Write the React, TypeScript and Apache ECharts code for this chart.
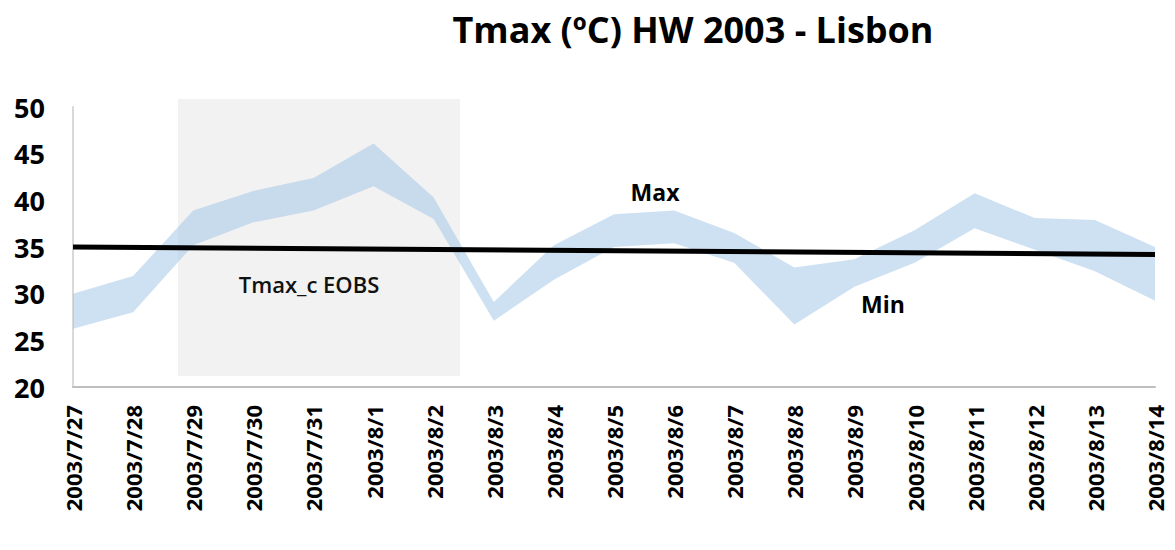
import React, { useEffect, useRef } from "react";
import * as echarts from "echarts";

const dates = [
  "2003/7/27", "2003/7/28", "2003/7/29", "2003/7/30", "2003/7/31",
  "2003/8/1", "2003/8/2", "2003/8/3", "2003/8/4", "2003/8/5",
  "2003/8/6", "2003/8/7", "2003/8/8", "2003/8/9", "2003/8/10",
  "2003/8/11", "2003/8/12", "2003/8/13", "2003/8/14",
];
const tmaxMax = [30.0, 31.9, 38.9, 41.0, 42.4, 46.1, 40.3, 29.1, 35.2, 38.5, 38.9, 36.5, 32.8, 33.7, 36.8, 40.75, 38.1, 37.9, 35.0];
const tmaxMin = [26.25, 28.0, 35.2, 37.65, 38.9, 41.5, 38.0, 27.1, 31.5, 35.0, 35.4, 33.3, 26.7, 30.75, 33.3, 37.0, 34.7, 32.4, 29.25];
const trendStart = 35.0;
const trendEnd = 34.2;
const yTicks = { min: 20, max: 50, interval: 5 };

const FONT = "'Open Sans', 'Noto Sans', sans-serif";

export default function App() {
  const ref = useRef<HTMLDivElement>(null);
  useEffect(() => {
    if (!ref.current) return;
    const chart = echarts.init(ref.current, undefined, { renderer: "svg" });
    const diff = tmaxMax.map((v, i) => +(v - tmaxMin[i]).toFixed(3));
    chart.setOption({
      animation: false,
      backgroundColor: "#ffffff",
      title: {
        text: "Tmax (ºC) HW 2003 - Lisbon",
        left: 688,
        textAlign: "center",
        top: 6,
        textStyle: { fontFamily: FONT, fontWeight: "bold", fontSize: 36, color: "#000" },
      },
      grid: { left: 73, right: 20, top: 107, bottom: 163, containLabel: false, outerBoundsMode: "none" },
      graphic: [
        {
          type: "rect",
          z: -10,
          shape: { x: 178, y: 99, width: 282, height: 277 },
          style: { fill: "#f2f2f2" },
          silent: true,
        },
        {
          type: "text",
          x: 309,
          y: 284,
          z: 10,
          style: { text: "Tmax_c EOBS", fontFamily: FONT, fontWeight: 600, fontSize: 22, fill: "#111", align: "center", verticalAlign: "middle" },
        },
        {
          type: "text",
          x: 655,
          y: 192,
          z: 10,
          style: { text: "Max", fontFamily: FONT, fontWeight: "bold", fontSize: 23, fill: "#000", align: "center", verticalAlign: "middle" },
        },
        {
          type: "text",
          x: 883,
          y: 304,
          z: 10,
          style: { text: "Min", fontFamily: FONT, fontWeight: "bold", fontSize: 23, fill: "#000", align: "center", verticalAlign: "middle" },
        },
      ],
      xAxis: {
        type: "category",
        data: dates,
        boundaryGap: false,
        axisLine: { lineStyle: { color: "#bfbfbf", width: 2 } },
        axisTick: { show: false },
        axisLabel: {
          rotate: 90,
          margin: 18,
          interval: 0,
          fontFamily: FONT,
          fontWeight: "bold",
          fontSize: 22,
          color: "#000",
        },
        splitLine: { show: false },
      },
      yAxis: {
        type: "value",
        min: yTicks.min,
        max: yTicks.max,
        interval: yTicks.interval,
        axisLine: { show: true, lineStyle: { color: "#d9d9d9", width: 2 } },
        axisTick: { show: false },
        splitLine: { show: false },
        axisLabel: {
          margin: 28,
          fontFamily: FONT,
          fontWeight: "bold",
          fontSize: 27,
          color: "#000",
        },
      },
      series: [
        {
          name: "Min",
          type: "line",
          data: tmaxMin,
          stack: "band",
          symbol: "none",
          lineStyle: { width: 0, opacity: 0 },
          silent: true,
        },
        {
          name: "Max",
          type: "line",
          data: diff,
          stack: "band",
          symbol: "none",
          lineStyle: { width: 0, opacity: 0 },
          areaStyle: { color: "rgba(157,195,230,0.5)", opacity: 1 },
          silent: true,
        },
        {
          name: "Tmax_c EOBS",
          type: "line",
          data: [[0, trendStart], [dates.length - 1, trendEnd]],
          symbol: "none",
          lineStyle: { color: "#000", width: 5 },
          z: 5,
        },
      ],
    });
    return () => chart.dispose();
  }, []);
  return <div ref={ref} style={{ width: 1175, height: 550, position: "absolute", left: 0, top: 0 }} />;
}
